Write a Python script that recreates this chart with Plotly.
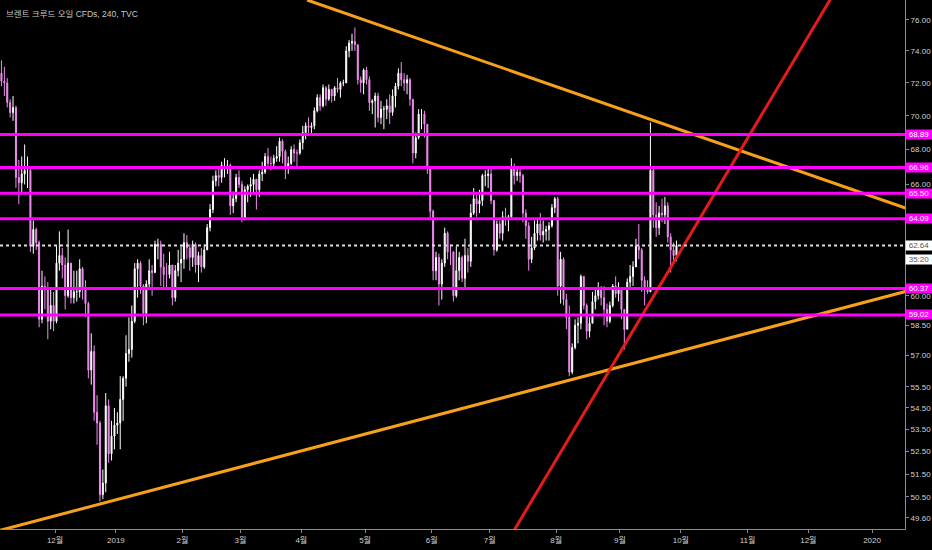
import math
import pandas as pd
import plotly.graph_objects as go

# daily bars, Nov 6 2018 .. Sep 27 2019 (weekdays)
days = pd.bdate_range("2018-11-06", "2019-09-27") + pd.Timedelta(hours=12)

first_open = 72.6
close = [
    # nov 2018
    72.1, 72.0, 70.8, 70.2, 70.5, 66.4, 66.1, 66.6, 66.8, 66.8, 62.6, 63.5, 62.8, 58.8, 60.5, 60.3, 58.7, 59.5, 58.7,
    # dec
    61.7, 62.1, 61.6, 60.0, 61.7, 59.9, 60.2, 60.2, 61.4, 60.3, 59.6, 56.3, 57.2, 54.3, 53.8, 50.6, 51.1, 54.6, 52.4, 53.2, 53.7,
    # jan 2019
    53.8, 54.9, 55.9, 57.1, 57.3, 58.7, 61.4, 61.7, 60.5, 59.1, 60.6, 61.3, 61.2, 62.7, 62.7, 61.5, 61.1, 61.1, 61.6, 59.9, 61.3, 61.7, 61.9,
    # feb
    62.8, 62.5, 62.0, 62.7, 61.6, 62.1, 61.5, 62.4, 63.6, 64.6, 66.2, 66.5, 66.4, 67.1, 67.1, 67.1, 64.8, 65.2, 66.4, 66.0,
    # mar
    64.1, 65.7, 65.9, 66.0, 66.3, 65.7, 66.6, 66.7, 67.6, 67.2, 67.2, 67.5, 67.6, 68.5, 67.9, 67.0, 67.2, 68.0, 67.8, 67.8, 68.4,
    # apr
    69.0, 69.4, 69.3, 69.4, 70.3, 71.1, 70.6, 71.7, 71.0, 71.6, 71.2, 71.7, 71.6, 72.0, 72.0, 74.0, 74.5, 74.6, 74.4, 72.2, 72.0, 72.8,
    # may
    72.2, 70.8, 70.9, 71.2, 69.9, 70.4, 70.4, 70.6, 70.2, 71.2, 71.8, 72.6, 72.2, 72.0, 72.2, 71.0, 67.8, 68.7, 70.1, 70.1, 69.5, 66.9, 64.5,
    # jun
    61.3, 62.0, 60.6, 61.7, 63.3, 62.3, 62.3, 60.0, 61.3, 62.0, 60.9, 62.1, 61.8, 64.4, 65.2, 64.9, 65.1, 66.5, 66.5, 66.6,
    # jul
    65.1, 62.4, 63.8, 63.3, 64.2, 64.1, 64.2, 67.0, 66.5, 66.7, 66.5, 64.4, 63.7, 61.9, 62.5, 63.3, 63.8, 63.2, 63.4, 63.5, 63.7, 64.7, 65.2,
    # aug
    60.5, 61.9, 59.8, 58.9, 56.2, 57.4, 58.5, 58.6, 61.0, 59.5, 58.2, 58.6, 59.7, 60.0, 60.3, 59.9, 59.3, 58.7, 59.5, 60.5, 60.1, 60.4,
    # sep
    59.3, 58.3, 60.7, 61.0, 61.5, 62.6, 62.4, 60.8, 60.4, 60.2, 66.8, 64.3, 63.6, 64.4, 64.3, 64.8, 63.1, 62.4, 62.1, 62.64,
]
high = [
    73.4, 73.0, 72.3, 71.0, 71.2, 70.6, 67.4, 67.6, 68.3, 67.6, 67.0, 64.0, 63.6, 62.9, 61.3, 61.0, 60.7, 60.4, 60.2,
    62.6, 63.4, 62.5, 62.0, 63.5, 61.7, 61.3, 61.3, 61.9, 61.5, 60.8, 59.7, 58.1, 57.5, 55.1, 53.9, 51.7, 55.2, 54.9, 53.9, 54.5,
    54.3, 56.0, 56.0, 58.0, 58.9, 59.5, 61.7, 61.9, 61.8, 60.6, 60.8, 61.9, 61.6, 62.9, 63.0, 62.9, 62.2, 61.7, 62.3, 61.6, 61.6, 62.4, 62.6,
    63.3, 63.2, 62.7, 62.9, 62.8, 62.3, 62.5, 62.7, 63.8, 64.9, 66.5, 66.8, 66.9, 67.3, 67.5, 67.4, 67.2, 65.6, 66.6, 66.8,
    66.2, 65.9, 66.0, 66.4, 66.6, 66.3, 66.8, 67.3, 67.8, 68.1, 67.6, 67.7, 68.2, 68.7, 68.6, 68.0, 67.6, 68.2, 68.3, 68.0, 68.6,
    69.4, 69.6, 69.9, 69.6, 70.5, 71.3, 71.3, 71.9, 71.8, 71.9, 71.6, 71.8, 72.3, 72.1, 72.2, 74.3, 74.7, 75.1, 75.5, 74.4, 72.4, 72.9,
    73.0, 72.4, 71.0, 71.4, 71.4, 70.9, 70.6, 71.0, 71.3, 71.6, 72.0, 72.9, 73.3, 72.6, 72.5, 72.3, 71.0, 69.0, 70.4, 70.4, 70.3, 69.5, 67.0,
    64.6, 62.3, 62.2, 61.9, 63.6, 63.4, 62.7, 62.3, 62.6, 62.3, 62.1, 63.0, 62.5, 64.9, 65.8, 65.4, 65.7, 66.6, 66.8, 66.9,
    66.9, 65.1, 64.0, 64.0, 64.5, 64.7, 64.3, 67.5, 67.2, 67.0, 67.0, 66.6, 64.6, 63.9, 63.1, 64.0, 64.1, 64.4, 64.0, 63.7, 63.9, 64.9, 65.3,
    65.3, 62.3, 62.0, 60.1, 59.5, 57.6, 58.8, 58.9, 61.1, 61.0, 59.6, 58.9, 60.2, 60.4, 60.7, 60.5, 60.5, 59.6, 59.7, 60.6, 61.0, 60.7,
    60.4, 59.3, 60.9, 61.6, 61.8, 63.0, 63.8, 62.5, 61.0, 60.8, 69.6, 66.9, 65.0, 64.8, 65.2, 65.3, 65.0, 63.3, 62.8, 62.9,
]
low = [
    71.8, 71.2, 70.5, 69.9, 69.7, 65.8, 64.9, 65.5, 66.0, 65.8, 62.3, 62.2, 62.4, 58.4, 58.6, 59.3, 57.8, 58.3, 58.2,
    58.6, 61.3, 60.9, 59.3, 59.9, 59.6, 59.6, 59.7, 59.9, 59.8, 58.9, 55.9, 55.6, 53.9, 52.8, 50.3, 50.4, 50.7, 52.0, 52.1, 52.6,
    53.3, 52.6, 53.9, 55.5, 56.7, 56.9, 58.6, 59.9, 60.1, 58.5, 58.6, 60.3, 60.0, 61.2, 61.9, 60.5, 60.3, 60.4, 60.9, 59.5, 59.7, 61.0, 60.7,
    61.4, 61.9, 61.3, 61.5, 61.2, 60.7, 61.2, 61.4, 62.4, 63.4, 64.4, 65.9, 65.9, 66.1, 66.4, 66.6, 64.3, 64.4, 65.0, 65.8,
    63.9, 64.0, 65.0, 65.3, 65.5, 64.6, 65.3, 66.2, 66.6, 67.0, 66.8, 66.9, 67.3, 67.3, 67.2, 66.3, 66.6, 67.1, 67.3, 67.0, 67.7,
    68.0, 68.6, 68.9, 68.8, 69.2, 70.2, 70.3, 70.5, 70.6, 70.9, 70.8, 70.9, 71.4, 71.1, 71.8, 72.0, 73.6, 74.0, 74.0, 71.9, 71.4, 71.3,
    71.9, 70.3, 70.1, 69.3, 69.6, 69.5, 69.2, 69.8, 69.5, 70.0, 70.5, 71.6, 71.8, 71.5, 71.3, 70.6, 67.2, 67.5, 68.6, 69.2, 68.7, 66.6, 64.0,
    60.8, 60.8, 59.5, 59.8, 61.5, 61.9, 61.6, 59.7, 59.9, 60.8, 60.7, 60.4, 61.2, 61.5, 64.3, 64.2, 64.4, 64.8, 65.9, 65.8,
    64.9, 62.1, 62.3, 63.0, 62.9, 63.7, 63.4, 64.1, 66.0, 66.2, 66.1, 63.9, 63.0, 61.3, 61.7, 62.4, 62.9, 62.9, 62.8, 62.9, 62.9, 63.6, 64.4,
    60.0, 59.6, 59.5, 58.3, 56.0, 56.1, 57.3, 57.6, 58.3, 59.3, 57.8, 57.9, 58.6, 59.3, 59.8, 59.5, 58.5, 58.4, 58.6, 59.4, 59.9, 59.7,
    58.8, 57.3, 58.3, 60.3, 60.5, 61.5, 61.9, 60.2, 59.5, 60.1, 60.2, 63.6, 63.1, 63.2, 63.9, 63.8, 62.8, 61.2, 61.7, 61.8,
]
opens = [first_open] + close[:-1]

# horizontal levels and trend lines (two anchor points each)
levels = [68.89, 66.96, 65.50, 64.09, 60.37, 59.02]
last_price = 62.64
countdown = "35:20"
fall_x, fall_y = ["2019-04-03", "2020-01-31"], [77.3, 63.88]
rise_x, rise_y = ["2018-11-01", "2020-01-31"], [48.91, 60.79]
red_x, red_y = ["2019-07-02", "2019-12-24"], [47.57, 80.1]

month_ticks = ["2018-12-03", "2019-01-01", "2019-02-01", "2019-03-01", "2019-04-01", "2019-05-01", "2019-06-03",
               "2019-07-01", "2019-08-01", "2019-09-02", "2019-10-01", "2019-11-01", "2019-12-02", "2020-01-01"]
month_labels = ["12월", "2019", "2월", "3월", "4월", "5월", "6월", "7월", "8월", "9월", "10월", "11월", "12월", "2020"]
price_ticks = [76, 74, 72, 70, 68, 66, 60, 58.5, 57, 55.5, 54.5, 53.5, 52.5, 51.5, 50.5, 49.6]

FONT = "Liberation Sans, Noto Sans CJK KR, sans-serif"
MAGENTA = "#ff00ff"
AXIS = "#8c8c8c"

fig = go.Figure()
fig.add_trace(go.Candlestick(
    x=days, open=opens, high=high, low=low, close=close,
    increasing=dict(line=dict(color="#ffffff", width=1), fillcolor="#ffffff"),
    decreasing=dict(line=dict(color="#f08cf0", width=1), fillcolor="#f08cf0"),
    whiskerwidth=0, showlegend=False, hoverinfo="skip",
))
for xs, ys, col in [(fall_x, fall_y, "#f7a11a"), (rise_x, rise_y, "#f7a11a"), (red_x, red_y, "#e31b1b")]:
    fig.add_trace(go.Scatter(x=xs, y=ys, mode="lines", line=dict(color=col, width=3),
                             showlegend=False, hoverinfo="skip"))

for lv in levels:
    fig.add_shape(type="line", xref="paper", x0=0, x1=1, yref="y", y0=lv, y1=lv,
                  line=dict(color=MAGENTA, width=3))
    fig.add_annotation(xref="paper", x=1, xanchor="left", xshift=0, yref="y", y=math.log10(lv),
                       text=f"{lv:.2f}", showarrow=False, bgcolor=MAGENTA, width=26, height=9,
                       borderpad=0, font=dict(color="#ffffff", size=8, family=FONT))

fig.add_shape(type="line", xref="paper", x0=0, x1=1, yref="y", y0=last_price, y1=last_price,
              line=dict(color="#dcdcdc", width=2, dash="dot"))
fig.add_annotation(xref="paper", x=1, xanchor="left", xshift=0, yref="y", y=math.log10(last_price),
                   text=f"{last_price:.2f}", showarrow=False, bgcolor="#ffffff", width=26, height=9,
                   borderpad=0, font=dict(color="#555555", size=8, family=FONT))
fig.add_annotation(xref="paper", x=1, xanchor="left", xshift=0, yref="y", y=math.log10(last_price), yshift=-14,
                   text=countdown, showarrow=False, bgcolor="#ffffff", width=26, height=9,
                   borderpad=0, font=dict(color="#555555", size=8, family=FONT))

fig.add_annotation(xref="paper", yref="paper", x=0, y=1, xanchor="left", yanchor="top", xshift=4, yshift=-7,
                   text="브렌트 크루드 오일 CFDs, 240, TVC", showarrow=False,
                   font=dict(color="#c8c8c8", size=8.5, family=FONT))

fig.update_layout(
    width=932, height=550, margin=dict(l=0, r=27, t=0, b=21),
    paper_bgcolor="#000000", plot_bgcolor="#000000", hovermode=False, boxgap=0.5,
    xaxis=dict(type="date", range=["2018-11-06", "2020-01-16 09:00"],
               rangebreaks=[dict(bounds=["sat", "mon"])], rangeslider=dict(visible=False),
               tickvals=month_ticks, ticktext=month_labels, showgrid=False, zeroline=False,
               showline=True, linecolor=AXIS, ticks="outside", ticklen=3, tickcolor=AXIS,
               tickfont=dict(color="#d0d0d0", size=8, family=FONT), automargin=False),
    yaxis=dict(type="log", range=[math.log10(49.13), math.log10(77.3)], side="right",
               tickvals=price_ticks, ticktext=[f"{v:.2f}" for v in price_ticks],
               showgrid=False, zeroline=False, showline=True, linecolor=AXIS,
               ticks="outside", ticklen=3, tickcolor=AXIS,
               tickfont=dict(color="#d0d0d0", size=8, family=FONT), automargin=False),
)

# drop the page's default body margin so the 932x550 figure fills the window
fig.write_html("out.html", config={"displayModeBar": False},
               post_script="document.body.style.margin='0';document.body.style.overflow='hidden';")
